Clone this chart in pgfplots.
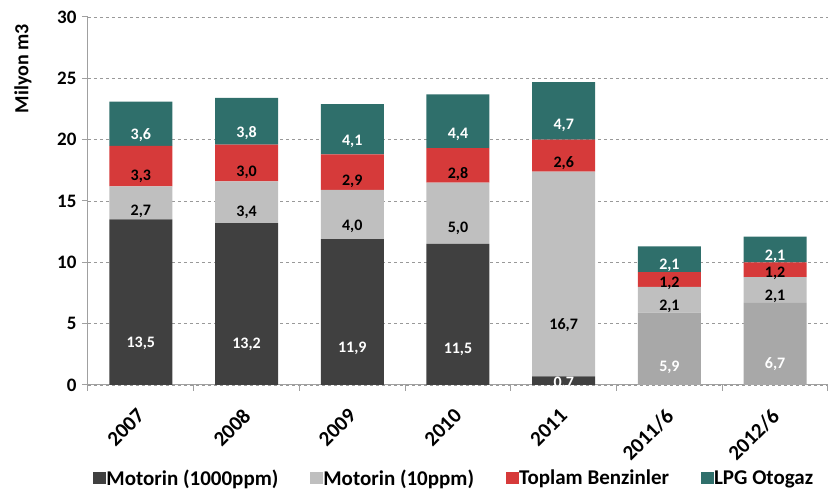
\documentclass[border=0pt]{standalone}
\usepackage{pgfplots}
\pgfplotsset{compat=1.18}
\usepackage{fontspec}
\setmainfont{Carlito}

\definecolor{mdark}{HTML}{404040}
\definecolor{mmid}{HTML}{A8A8A8}
\definecolor{mlight}{HTML}{BFBFBF}
\definecolor{benz}{HTML}{D63A3A}
\definecolor{lpg}{HTML}{2F6F6B}
\definecolor{axgray}{HTML}{A0A0A0}

\begin{document}
\begin{tikzpicture}
\path[use as bounding box] (-88pt,-109pt) rectangle (740pt,385pt);
\begin{axis}[
    scale only axis,
    width=740pt, height=368pt,
    ybar stacked,
    bar width=63pt,
    xmin=-0.5, xmax=6.5,
    ymin=0, ymax=30,
    xtick={0,...,6},
    xticklabels={2007,2008,2009,2010,2011,2011/6,2012/6},
    minor xtick={-0.5,0.5,...,6.5},
    ytick={0,5,...,30},
    axis x line*=bottom,
    axis y line*=left,
    axis line style={axgray, line width=1pt, -},
    major x tick style={draw=none},
    minor x tick style={axgray, line width=1pt},
    major y tick style={axgray, line width=1pt},
    tick align=outside,
    major tick length=6pt,
    minor tick length=6pt,
    ymajorgrids,
    grid style={dashed, gray!80, line width=0.6pt},
    /pgf/number format/assume math mode=true,
    yticklabel style={font=\fontsize{19}{22}\selectfont\bfseries, xshift=-2pt},
    % shifts act in the rotated frame
    xticklabel style={font=\fontsize{21}{24}\selectfont\bfseries, rotate=45, anchor=north east, inner sep=1pt, xshift=-14pt, yshift=-7pt},
    ylabel={Milyon m3},
    ylabel style={font=\fontsize{20}{23}\selectfont\bfseries, at={(axis description cs:-0.088,0.86)}, anchor=center},
    point meta=rawy,
    point meta min=0, point meta max=30,
    nodes near coords={\pgfmathfloatifflags{\pgfplotspointmeta}{0}{}{\pgfmathprintnumber[fixed,fixed zerofill,precision=1,use comma]{\pgfplotspointmeta}}},
    every node near coord/.append style={font=\fontsize{16}{19}\selectfont\bfseries, anchor=center, yshift=-0.092pt*\pgfplotspointmetatransformed},
    legend style={at={(0.495,-0.253)}, anchor=center, draw=none, legend columns=-1,
        font=\fontsize{21}{24}\selectfont\bfseries,
        /tikz/every even column/.append style={column sep=30pt},
        /tikz/every odd column/.append style={column sep=-2pt}},
    legend image code/.code={\fill[#1] (0pt,-6pt) rectangle (13pt,6pt);},
    legend cell align=left,
]
% half-year bottom segment (no legend entry)
\addplot[fill=mmid, draw=none, every node near coord/.append style={white}] coordinates
    {(0,0) (1,0) (2,0) (3,0) (4,0) (5,5.9) (6,6.7)};
\addplot[fill=mdark, draw=none, every node near coord/.append style={white}] coordinates
    {(0,13.5) (1,13.2) (2,11.9) (3,11.5) (4,0.7) (5,0) (6,0)};
\addplot[fill=mlight, draw=none, every node near coord/.append style={black}] coordinates
    {(0,2.7) (1,3.4) (2,4.0) (3,5.0) (4,16.7) (5,2.1) (6,2.1)};
\addplot[fill=benz, draw=none, every node near coord/.append style={black}] coordinates
    {(0,3.3) (1,3.0) (2,2.9) (3,2.8) (4,2.6) (5,1.2) (6,1.2)};
\addplot[fill=lpg, draw=none, every node near coord/.append style={white}] coordinates
    {(0,3.6) (1,3.8) (2,4.1) (3,4.4) (4,4.7) (5,2.1) (6,2.1)};
\legend{,Motorin (1000ppm),Motorin (10ppm),Toplam Benzinler,LPG Otogaz}
\end{axis}
\end{tikzpicture}
\end{document}
